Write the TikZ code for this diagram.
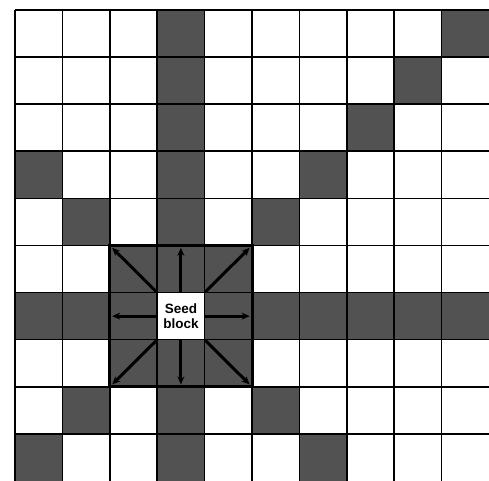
\documentclass[tikz,border=0pt]{standalone}
\usepackage{fontspec}
\setsansfont{Liberation Sans}
\usetikzlibrary{arrows.meta}
\begin{document}
\begin{tikzpicture}[x=47.4pt,y=-47.1pt,
  shaded/.style={fill=black!68},
  gridline/.style={line width=1.6pt,black},
  seedborder/.style={line width=3pt,black},
  growarrow/.style={line width=3pt,-{Stealth[length=8pt,width=7pt]}}]
\useasboundingbox (-0.3165,-0.2123) rectangle (10,10);
% shaded cells (col,row)
\foreach \c/\r in {3/0,9/0,3/1,8/1,3/2,7/2,0/3,3/3,6/3,1/4,3/4,5/4,
  2/5,3/5,4/5,0/6,1/6,2/6,4/6,5/6,6/6,7/6,8/6,9/6,2/7,3/7,4/7,
  1/8,3/8,5/8,0/9,3/9,6/9}
  \fill[shaded] (\c,\r) rectangle ++(1,1);
% grid
\foreach \c in {0,...,9} \draw[gridline] (\c,0) -- (\c,10);
\foreach \r in {0,...,9} \draw[gridline] (0,\r) -- (10,\r);
% seed block
\draw[seedborder] (2,5) rectangle (5,8);
\node[fill=white,draw=black,line width=1.6pt,minimum width=47.4pt,minimum height=47.1pt,inner sep=0pt,
  font=\sffamily\bfseries\fontsize{13.5}{15}\selectfont,align=center] (seed) at (3.5,6.5) {Seed\\block};
\coordinate (tN) at (3.5,5.05);
\coordinate (tS) at (3.5,7.95);
\coordinate (tW) at (2.05,6.5);
\coordinate (tE) at (4.95,6.5);
\coordinate (tNW) at (2.05,5.05);
\coordinate (tNE) at (4.95,5.05);
\coordinate (tSW) at (2.05,7.95);
\coordinate (tSE) at (4.95,7.95);
\draw[growarrow] (seed.north) -- (tN);
\draw[growarrow] (seed.south) -- (tS);
\draw[growarrow] (seed.west) -- (tW);
\draw[growarrow] (seed.east) -- (tE);
\draw[growarrow] (seed.north west) -- (tNW);
\draw[growarrow] (seed.north east) -- (tNE);
\draw[growarrow] (seed.south west) -- (tSW);
\draw[growarrow] (seed.south east) -- (tSE);
\end{tikzpicture}
\end{document}
